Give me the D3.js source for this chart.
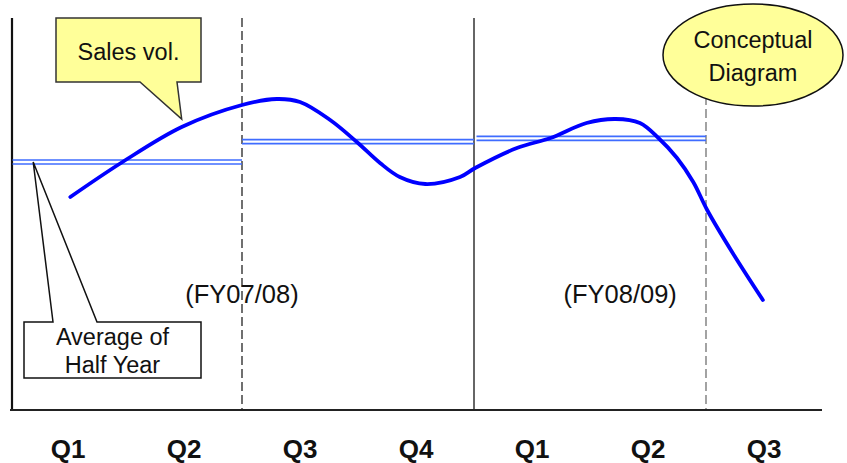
<!DOCTYPE html>
<html>
<head>
<meta charset="utf-8">
<script src="https://cdn.jsdelivr.net/npm/d3@7"></script>
<style>
  html, body { margin: 0; padding: 0; background: #fff; }
  svg { display: block; font-family: "Liberation Sans", Arial, sans-serif; }
</style>
</head>
<body>
<svg id="chart" width="847" height="463"></svg>
<script>
// Quarter labels along the bottom (two fiscal years, positions in quarter units)
const quarterLabels = ["Q1", "Q2", "Q3", "Q4", "Q1", "Q2", "Q3"];

// Sales volume curve: position in quarters from the start, relative volume
const salesT = [0.52, 0.97, 1.48, 2.0, 2.30, 2.5, 2.76, 2.99, 3.19, 3.36, 3.58, 3.88, 4.01,
                4.37, 4.66, 4.97, 5.22, 5.43, 5.59, 5.75, 5.89, 6.01, 6.23, 6.49];
const salesV = [53.25, 62, 70.75, 76.25, 77.75, 77, 72.5, 67, 61.75, 58.25, 56.5, 58.25, 60.5,
                65.5, 68, 71.75, 72.75, 71.75, 68, 63, 57, 50, 39.25, 27.5];

// Half-year averages: start / end quarter and level
const halfStart = [0, 2, 4];
const halfEnd   = [2, 4, 6];
const halfAvg   = [62, 67.1, 67.9];

// Period boundaries: half-year (dashed) and fiscal year (solid)
const boundaryQ    = [2, 4, 6];
const boundaryKind = ["half", "year", "half"];

// Fiscal year labels
const fyLabels = ["(FY07/08)", "(FY08/09)"];
const fyPos    = [2.0, 5.26];

const svg = d3.select("#chart");

const x = d3.scaleLinear().domain([0, 7]).range([10, 822]);
const y = d3.scaleLinear().domain([0, 100]).range([410, 10]);

// Period boundary lines
svg.selectAll("line.boundary")
  .data(boundaryQ)
  .join("line")
  .attr("class", "boundary")
  .attr("x1", d => x(d)).attr("x2", d => x(d))
  .attr("y1", y(98)).attr("y2", y(0))
  .attr("stroke", (d, i) => boundaryKind[i] === "year" ? "#333" : (i === 0 ? "#111" : "#666"))
  .attr("stroke-width", (d, i) => boundaryKind[i] === "year" ? 1.5 : 1.2)
  .attr("stroke-dasharray", (d, i) => boundaryKind[i] === "year" ? null : "9,4");

// Axes (plain lines, no ticks)
svg.append("line")
  .attr("x1", 12).attr("x2", 12)
  .attr("y1", y(98)).attr("y2", y(0))
  .attr("stroke", "#111").attr("stroke-width", 2.2);
svg.append("line")
  .attr("x1", x(0)).attr("x2", x(7))
  .attr("y1", y(0)).attr("y2", y(0))
  .attr("stroke", "#222").attr("stroke-width", 2.2);

// Half-year average: drawn as a thin double line
const avgGroup = svg.append("g");
halfAvg.forEach((v, i) => {
  [-2, 2].forEach(off => {
    avgGroup.append("line")
      .attr("x1", x(halfStart[i]) + (i === 1 ? 0 : 2.5))
      .attr("x2", x(halfEnd[i]))
      .attr("y1", y(v) + off).attr("y2", y(v) + off)
      .attr("stroke", "#3f6cff").attr("stroke-width", 1.6);
  });
});

// Sales volume curve
const line = d3.line()
  .x((d, i) => x(salesT[i]))
  .y(d => y(d))
  .curve(d3.curveCatmullRom.alpha(0.5));
svg.append("path")
  .datum(salesV)
  .attr("d", line)
  .attr("fill", "none")
  .attr("stroke", "#0000ff")
  .attr("stroke-width", 3.8)
  .attr("stroke-linecap", "round")
  .attr("stroke-linejoin", "round");

// Fiscal year labels
svg.selectAll("text.fy")
  .data(fyLabels)
  .join("text")
  .attr("class", "fy")
  .attr("x", (d, i) => x(fyPos[i]))
  .attr("y", 303)
  .attr("text-anchor", "middle")
  .attr("font-size", 25.5)
  .attr("fill", "#111")
  .text(d => d);

// Quarter labels
svg.selectAll("text.q")
  .data(quarterLabels)
  .join("text")
  .attr("class", "q")
  .attr("x", (d, i) => x(i + 0.5))
  .attr("y", 458)
  .attr("text-anchor", "middle")
  .attr("font-size", 26)
  .attr("font-weight", "bold")
  .attr("fill", "#111")
  .text(d => d);

// "Sales vol." speech callout pointing at the curve
const tipS = [x(1.48), y(72.75)];
svg.append("path")
  .attr("d", `M56,18 H201 V82 H177 L${tipS[0]},${tipS[1]} L140,82 H56 Z`)
  .attr("fill", "#ffff99")
  .attr("stroke", "#333")
  .attr("stroke-width", 1.5)
  .attr("stroke-linejoin", "miter");
svg.append("text")
  .attr("x", 128.5).attr("y", 60)
  .attr("text-anchor", "middle")
  .attr("font-size", 23.5)
  .attr("fill", "#111")
  .text("Sales vol.");

// "Average of Half Year" callout pointing at the first average line
const tipA = [x(0.2), y(halfAvg[0])];
svg.append("path")
  .attr("d", `M24,322 H53 L${tipA[0]},${tipA[1]} L97,322 H201 V378 H24 Z`)
  .attr("fill", "#fff")
  .attr("stroke", "#111")
  .attr("stroke-width", 1.5);
svg.append("text")
  .attr("x", 112.5).attr("y", 345)
  .attr("text-anchor", "middle")
  .attr("font-size", 23.5)
  .attr("fill", "#111")
  .text("Average of");
svg.append("text")
  .attr("x", 112.5).attr("y", 373)
  .attr("text-anchor", "middle")
  .attr("font-size", 23.5)
  .attr("fill", "#111")
  .text("Half Year");

// "Conceptual Diagram" badge
svg.append("ellipse")
  .attr("cx", 753).attr("cy", 55)
  .attr("rx", 90).attr("ry", 51)
  .attr("fill", "#ffff99")
  .attr("stroke", "#111")
  .attr("stroke-width", 1.5);
svg.append("text")
  .attr("x", 753).attr("y", 48)
  .attr("text-anchor", "middle")
  .attr("font-size", 23.5)
  .attr("fill", "#111")
  .text("Conceptual");
svg.append("text")
  .attr("x", 753).attr("y", 81)
  .attr("text-anchor", "middle")
  .attr("font-size", 23.5)
  .attr("fill", "#111")
  .text("Diagram");
</script>
</body>
</html>
